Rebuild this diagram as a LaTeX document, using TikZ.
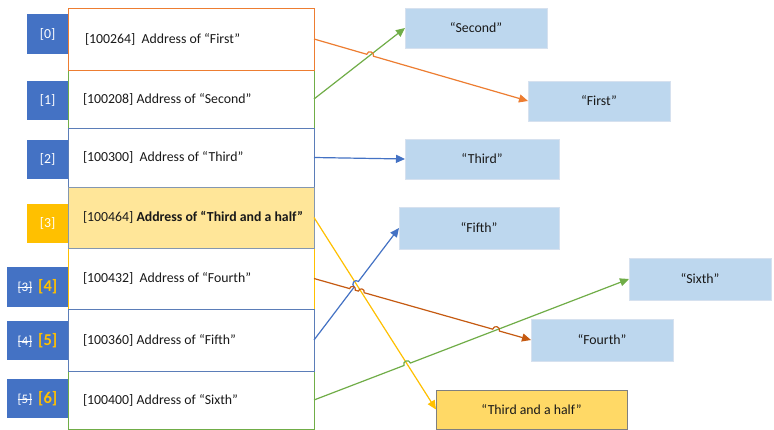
\documentclass[tikz,border=0pt]{standalone}
\usepackage{fontspec}
\setmainfont{Carlito}
\usetikzlibrary{arrows.meta,calc}
\definecolor{idxblue}{HTML}{4472C4}
\definecolor{yellowc}{HTML}{FFC000}
\definecolor{orangec}{HTML}{ED7D31}
\definecolor{greenc}{HTML}{70AD47}
\definecolor{blueline}{HTML}{4472C4}
\definecolor{rowblue}{HTML}{5B7DB8}
\definecolor{darkorange}{HTML}{C55A11}
\definecolor{rowthreefill}{HTML}{FFE699}
\definecolor{rowthreeborder}{HTML}{8497B0}
\definecolor{strfill}{HTML}{BDD7EE}
\definecolor{strborder}{HTML}{D6E1EF}
\definecolor{tahfill}{HTML}{FFD966}
\definecolor{tahborder}{HTML}{7F7F7F}
\newcommand\basefont{\fontsize{13.8pt}{16pt}\selectfont}
\newcommand\rowtxt[1]{\makebox[216pt][l]{#1}}
\newsavebox\strkbox
\newcommand\strk[1]{\sbox\strkbox{#1}\rlap{\usebox\strkbox}\rule[0.3em]{\wd\strkbox}{0.6pt}}
\newcommand\idxtwo[2]{{\fontsize{13pt}{15pt}\selectfont\strk{[#1]}}\hspace{6pt}{\fontsize{16.5pt}{18pt}\selectfont\bfseries\color{yellowc}[#2]}}
\begin{document}
\begin{tikzpicture}[x=1pt,y=-1pt,
  rowbox/.style={draw, fill=white, line width=0.9pt, anchor=north west, inner xsep=15pt, inner ysep=0pt, outer sep=0pt, minimum width=246pt, font=\basefont, text=black!90},
  idxbox/.style={fill=#1, anchor=north west, inner sep=0pt, outer sep=0pt, minimum width=41pt, minimum height=40pt, font=\basefont, text=white},
  strbox/.style={fill=strfill, draw=strborder, line width=0.8pt, anchor=north west, inner sep=0pt, outer sep=0pt, minimum height=40pt, font=\basefont, text=black!90},
  conn/.style={line width=1.2pt, -{Triangle[length=9pt,width=8pt]}},
  hop/.style={bend left=90, looseness=1.7}]
\useasboundingbox (0,0) rectangle (774,430);
\fill[white] (0,0) rectangle (774,430);

% index boxes
\node[idxbox=idxblue] (i0) at (27,14) {[0]};
\node[idxbox=idxblue, minimum height=39pt] (i1) at (27,81) {[1]};
\node[idxbox=idxblue, minimum height=39pt] (i2) at (27,140) {[2]};
\node[idxbox=yellowc, minimum height=39pt] (i3) at (27,204) {[3]};
\node[idxbox=idxblue, minimum width=61pt] (i4) at (7,267) {\idxtwo{3}{4}};
\node[idxbox=idxblue, minimum width=61pt, minimum height=39pt] (i5) at (7,321) {\idxtwo{4}{5}};
\node[idxbox=idxblue, minimum width=61pt, minimum height=39pt] (i6) at (7,379) {\idxtwo{5}{6}};

% array rows
\node[rowbox, draw=greenc, minimum height=58pt] (r1) at (68,70) {\rowtxt{[100208] Address of “Second”}};
\node[rowbox, draw=orangec, minimum height=62pt] (r0) at (68,8) {\rowtxt{\hspace{2pt}[100264]\ \ Address of “First”}};
\node[rowbox, draw=rowblue, minimum height=59pt] (r2) at (68,128) {\rowtxt{[100300]\ \ Address of “Third”}};
\node[rowbox, draw=yellowc, minimum height=61pt] (r4) at (68,248) {\rowtxt{[100432]\ \ Address of “Fourth”}};
\node[rowbox, draw=rowthreeborder, fill=rowthreefill, minimum height=61pt] (r3) at (68,187) {\rowtxt{[100464] \textbf{Address of “Third and a half”}}};
\node[rowbox, draw=greenc, minimum height=58pt] (r6) at (68,371) {\rowtxt{[100400] Address of “Sixth”}};
\node[rowbox, draw=rowblue, minimum height=62pt] (r5) at (68,309) {\rowtxt{[100360] Address of “Fifth”}};

% string boxes
\node[strbox, minimum width=142pt] (second) at (405,8) {“Second”};
\node[strbox, minimum width=142pt] (first) at (528,81) {“First”};
\node[strbox, minimum width=154pt] (third) at (405,139) {“Third”};
\node[strbox, minimum width=160pt, minimum height=42pt] (fifth) at (399,207) {“Fifth”};
\node[strbox, minimum width=142pt, minimum height=42pt] (sixth) at (629,258) {“Sixth”};
\node[strbox, minimum width=142pt, minimum height=42pt] (fourth) at (531,319) {“Fourth”};
\node[strbox, fill=tahfill, draw=tahborder, minimum width=191pt, minimum height=39pt] (tah) at (436,390) {“Third and a half”};

% crossing points
\coordinate (xa) at (intersection of r0.east--first.west and r1.east--second.west);
\coordinate (xb) at (intersection of r4.east--fourth.west and r5.east--fifth.west);
\coordinate (xc) at (intersection of r4.east--fourth.west and r3.east--tah.west);
\coordinate (xd) at (intersection of r4.east--fourth.west and r6.east--sixth.west);
\coordinate (xe) at (intersection of r5.east--fifth.west and r3.east--tah.west);
\coordinate (xf) at (intersection of r6.east--sixth.west and r3.east--tah.west);

% connectors
\draw[conn, greenc] (r1.east) -- (second.west);
\draw[conn, orangec] (r0.east) -- ($(xa)!3.5pt!(r0.east)$) to[hop] ($(xa)!3.5pt!(first.west)$) -- (first.west);
\draw[conn, blueline] (r2.east) -- (third.west);
\draw[conn, yellowc] (r3.east) -- (tah.west);
\draw[conn, blueline] (r5.east) -- ($(xe)!3.5pt!(r5.east)$) to[hop] ($(xe)!3.5pt!(fifth.west)$) -- (fifth.west);
\draw[conn, greenc] (r6.east) -- ($(xf)!3.5pt!(r6.east)$) to[hop] ($(xf)!3.5pt!(sixth.west)$) -- (sixth.west);
\draw[conn, darkorange] (r4.east) -- ($(xb)!3pt!(r4.east)$) to[hop] ($(xb)!3pt!(fourth.west)$) -- ($(xc)!3pt!(r4.east)$) to[hop] ($(xc)!3pt!(fourth.west)$) -- ($(xd)!3.5pt!(r4.east)$) to[hop] ($(xd)!3.5pt!(fourth.west)$) -- (fourth.west);
\end{tikzpicture}
\end{document}
